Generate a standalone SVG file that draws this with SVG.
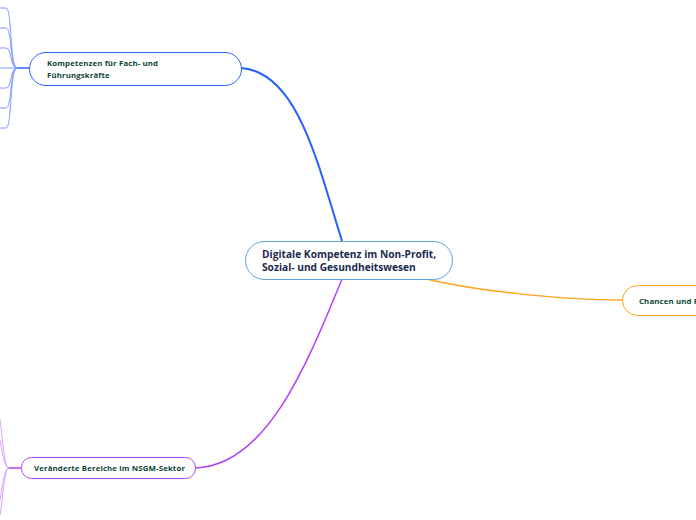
<svg xmlns="http://www.w3.org/2000/svg" width="696" height="520" viewBox="0 0 696 520">
<style>
.ctext{font-family:"Open Sans","Noto Sans",sans-serif;font-weight:700;font-size:10.2px;fill:#1b2a4e}
.t{font-family:"Open Sans","Noto Sans",sans-serif;font-weight:700;font-size:7.8px;letter-spacing:0.15px;fill:#0d4436}
.sub{fill:none;stroke-width:1}
</style>
<rect width="696" height="520" fill="#ffffff"/>
<g id="connectors" fill="none">
<path d="M342,241 C 318,165 298,72 241,68" stroke="#2962ff" stroke-width="2"/>
<path d="M427,279 C 470,290 560,300 622,300" stroke="#ffa41c" stroke-width="1.5"/>
<path d="M342,279 C 305,370 265,466 195,468" stroke="#b040ff" stroke-width="1.5"/>
<g stroke="#7d9cff" class="sub">
<path d="M29,68 H17" stroke="#2962ff" stroke-width="1.5"/>
<path d="M17,68 C 10,68 12,8 6,8 H0"/>
<path d="M17,68 C 10,68 12,28 6,28 H0"/>
<path d="M17,68 C 10,68 12,48 6,48 H0"/>
<path d="M17,68 H0"/>
<path d="M17,68 C 10,68 12,88 6,88 H0"/>
<path d="M17,68 C 10,68 12,108 6,108 H0"/>
<path d="M17,68 C 10,68 12,128 6,128 H0"/>
</g>
<g stroke="#d8a0ff" class="sub">
<path d="M21,468 H9" stroke="#b040ff" stroke-width="1.5"/>
<path d="M9,468 C 4,468 3,440 0,420"/>
<path d="M9,468 C 4,468 2,450 0,440"/>
<path d="M9,468 C 4,468 2,490 0,500"/>
<path d="M9,468 C 4,468 3,500 0,515"/>
</g>
</g>
<g id="center">
<rect x="245.5" y="241.5" width="207" height="38" rx="19" fill="#ffffff" stroke="#5fa3de" stroke-width="1"/>
<text class="ctext" x="262" y="258">Digitale Kompetenz im Non-Profit,</text>
<text class="ctext" x="262" y="271">Sozial- und Gesundheitswesen</text>
</g>
<g id="n-kompetenzen">
<rect x="29.5" y="52.5" width="212" height="33" rx="16.5" fill="#ffffff" stroke="#2962ff" stroke-width="1"/>
<text class="t" x="47" y="66">Kompetenzen für Fach- und</text>
<text class="t" x="47" y="78">Führungskräfte</text>
</g>
<g id="n-chancen">
<rect x="622.5" y="285.5" width="120" height="30" rx="15" fill="#ffffff" stroke="#ffa41c" stroke-width="1"/>
<text class="t" x="639" y="304">Chancen und Risiken</text>
</g>
<g id="n-bereiche">
<rect x="21.5" y="457.5" width="174" height="21" rx="10" fill="#ffffff" stroke="#b040ff" stroke-width="1"/>
<text class="t" x="34" y="471">Veränderte Bereiche im NSGM-Sektor</text>
</g>
</svg>
